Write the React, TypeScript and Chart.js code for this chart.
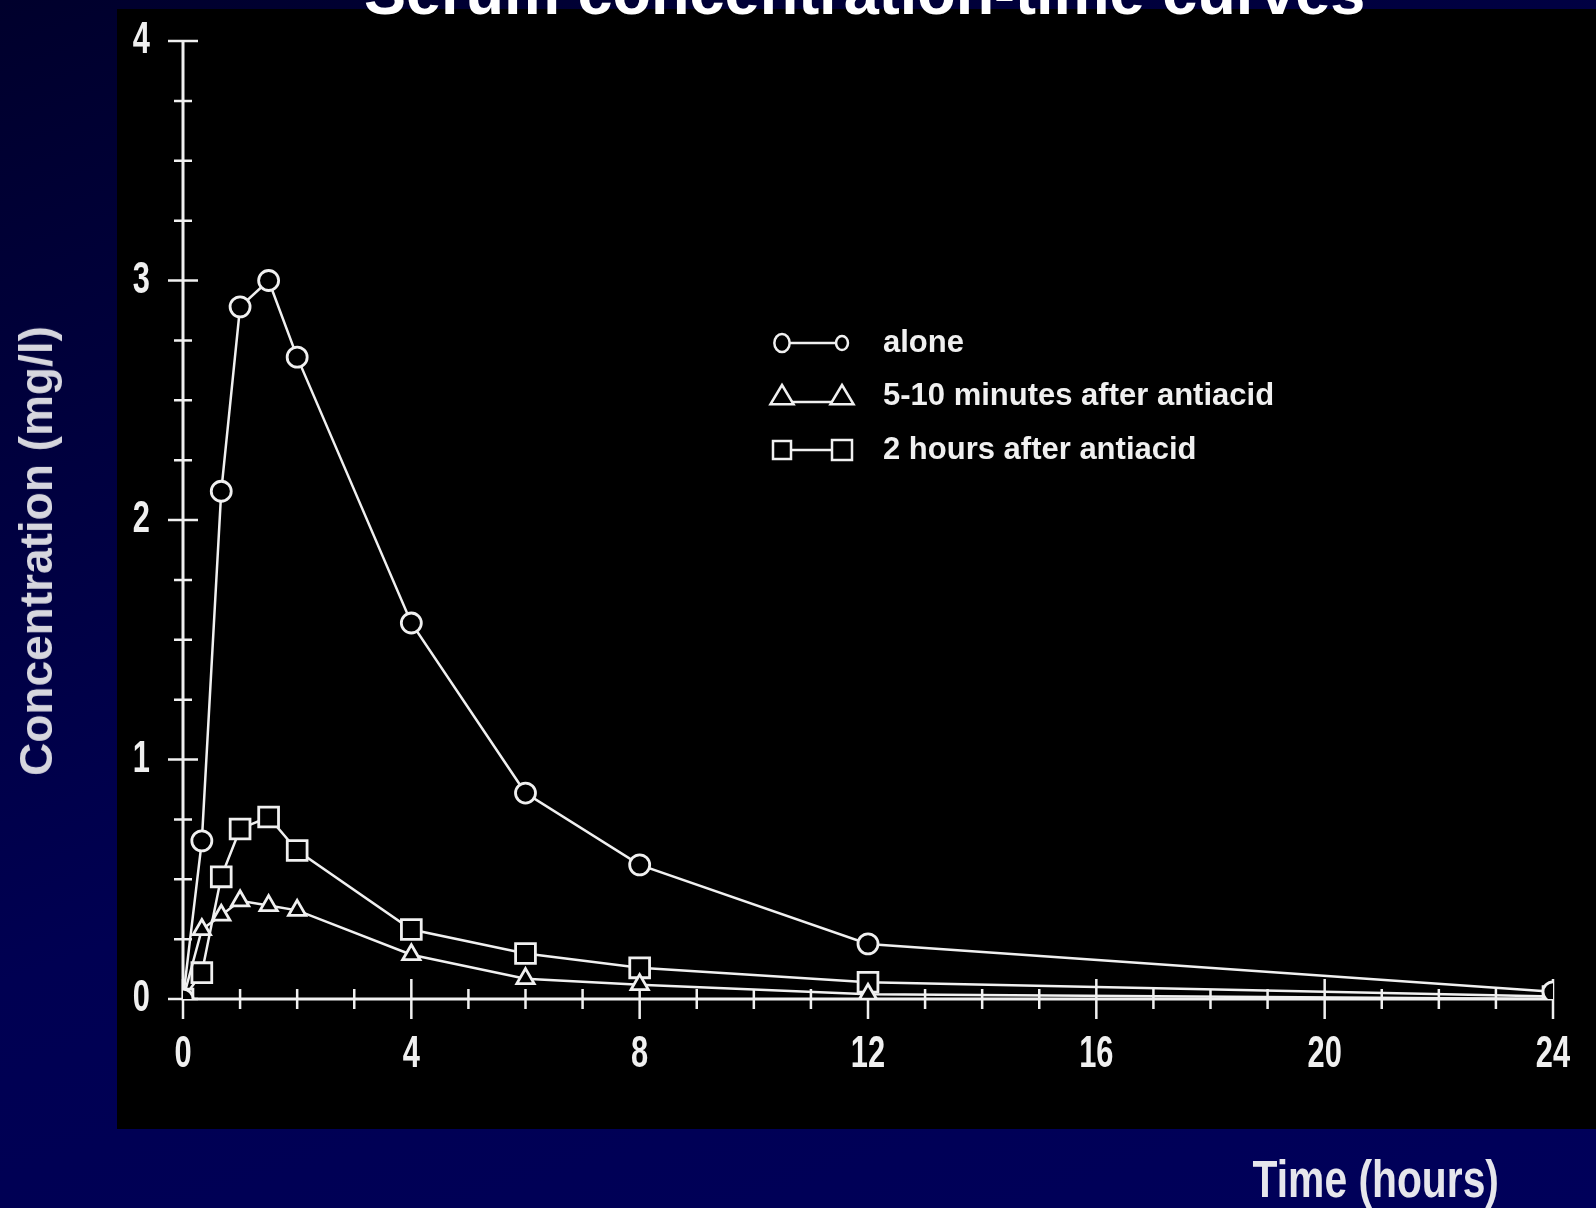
import React, { useEffect, useRef } from 'react';
import { Chart, registerables } from 'chart.js';

Chart.register(...registerables);

// ---- data ----
const times = [0, 0.33, 0.67, 1, 1.5, 2, 4, 6, 8, 12, 24];
const seriesLabels = ['alone', '5-10 minutes after antiacid', '2 hours after antiacid'];
const aloneValues = [0, 0.66, 2.12, 2.89, 3.0, 2.68, 1.57, 0.86, 0.56, 0.23, 0.03];
const antacid5to10Values = [0, 0.29, 0.35, 0.41, 0.39, 0.37, 0.185, 0.085, 0.06, 0.02, 0];
const antacid2hValues = [0, 0.11, 0.51, 0.71, 0.76, 0.62, 0.29, 0.19, 0.13, 0.07, 0.01];
const xTickValues = [0, 4, 8, 12, 16, 20, 24];
const yTickValues = [0, 1, 2, 3, 4];
const xMinorStep = 1;
const yMinorStep = 0.25;
const titleText = 'Serum concentration-time curves';
const xAxisTitle = 'Time (hours)';
const yAxisTitle = 'Concentration (mg/l)';

// ---- styles ----
const W = 1596;
const H = 1208;
const WHITE = '#f0f0f0';
const FONT = '"Liberation Sans", Arial, Helvetica, sans-serif';
const pointStyles = ['circle', 'triangle', 'rect'];
const pointRadii = [10, 10, 14];

const crossAxesPlugin = {
  id: 'crossAxes',
  beforeDatasetsDraw(chart: any) {
    const { ctx, scales } = chart;
    const xs = scales.x;
    const ys = scales.y;
    const x0 = xs.getPixelForValue(xs.min);
    const y0 = ys.getPixelForValue(ys.min);
    ctx.save();
    ctx.strokeStyle = WHITE;
    ctx.lineWidth = 3;
    ctx.beginPath();
    ctx.moveTo(x0, ys.getPixelForValue(ys.max));
    ctx.lineTo(x0, y0);
    ctx.lineTo(xs.getPixelForValue(xs.max), y0);
    ctx.stroke();
    ctx.lineWidth = 2.5;
    ctx.beginPath();
    for (let v = ys.min; v <= ys.max + 1e-9; v += yMinorStep) {
      const major = yTickValues.some((t) => Math.abs(t - v) < 1e-6);
      const h = major ? 15 : 9;
      const py = ys.getPixelForValue(v);
      ctx.moveTo(x0 - h, py);
      ctx.lineTo(x0 + h, py);
    }
    for (let t = xs.min; t <= xs.max + 1e-9; t += xMinorStep) {
      const major = xTickValues.some((v) => Math.abs(t - v) < 1e-6);
      const h = major ? 20 : 10;
      const px = xs.getPixelForValue(t);
      ctx.moveTo(px, y0 - h);
      ctx.lineTo(px, y0 + h);
    }
    ctx.stroke();

    // condensed tick labels, placed by the scales
    ctx.fillStyle = WHITE;
    ctx.font = `bold 44px ${FONT}`;
    ctx.textBaseline = 'middle';
    ctx.textAlign = 'center';
    xs.ticks.forEach((t: any) => {
      const label = t.label != null ? String(t.label) : String(t.value);
      ctx.save();
      ctx.translate(xs.getPixelForValue(t.value), y0 + 56);
      ctx.scale(0.7, 1);
      ctx.fillText(label, 0, 0);
      ctx.restore();
    });
    ctx.textAlign = 'right';
    ys.ticks.forEach((t: any) => {
      const label = t.label != null ? String(t.label) : String(t.value);
      ctx.save();
      ctx.translate(x0 - 33, ys.getPixelForValue(t.value));
      ctx.scale(0.7, 1);
      ctx.fillText(label, 0, 0);
      ctx.restore();
    });
    ctx.restore();
  },
};

function drawMarker(ctx: CanvasRenderingContext2D, style: string, x: number, y: number, r: number) {
  ctx.beginPath();
  if (style === 'circle') {
    ctx.ellipse(x, y, r * 0.85, r, 0, 0, Math.PI * 2);
  } else if (style === 'triangle') {
    ctx.moveTo(x, y - r);
    ctx.lineTo(x + r * 1.05, y + r * 0.75);
    ctx.lineTo(x - r * 1.05, y + r * 0.75);
    ctx.closePath();
  } else {
    ctx.rect(x - r, y - r, 2 * r, 2 * r);
  }
  ctx.fill();
  ctx.stroke();
}

const legendPlugin = {
  id: 'seriesKey',
  afterDatasetsDraw(chart: any) {
    const { ctx } = chart;
    const rows = [343, 396, 450];
    const m1 = 782;
    const m2 = 842;
    const textX = 883;
    const sizes = [
      [9, 7],
      [11, 11],
      [9, 10],
    ];
    ctx.save();
    chart.data.datasets.forEach((ds: any, i: number) => {
      const y = rows[i];
      ctx.strokeStyle = WHITE;
      ctx.fillStyle = '#000';
      ctx.lineWidth = 2.5;
      ctx.beginPath();
      ctx.moveTo(m1, y + (i === 1 ? 6 : 0));
      ctx.lineTo(m2, y + (i === 1 ? 6 : 0));
      ctx.stroke();
      drawMarker(ctx, ds.pointStyle, m1, y, sizes[i][0]);
      drawMarker(ctx, ds.pointStyle, m2, y, sizes[i][1]);
      ctx.fillStyle = WHITE;
      ctx.font = `bold 31px ${FONT}`;
      ctx.textBaseline = 'middle';
      ctx.textAlign = 'left';
      ctx.fillText(ds.label, textX, y);
    });
    ctx.restore();
  },
};

function zeroPadding(s: any) {
  s.paddingTop = 0;
  s.paddingBottom = 0;
  s.paddingLeft = 0;
  s.paddingRight = 0;
}

export default function App() {
  const canvasRef = useRef<HTMLCanvasElement | null>(null);

  useEffect(() => {
    if (!canvasRef.current) return;
    const seriesValues = [aloneValues, antacid5to10Values, antacid2hValues];
    const chart = new Chart(canvasRef.current, {
      type: 'scatter',
      data: {
        datasets: seriesLabels.map((label, i) => ({
          label,
          data: times.map((t, k) => ({ x: t, y: seriesValues[i][k] })),
          showLine: true,
          borderColor: WHITE,
          borderWidth: 2.5,
          backgroundColor: '#000',
          pointStyle: pointStyles[i],
          pointRadius: pointRadii[i],
          pointBorderWidth: 2.8,
          pointBorderColor: WHITE,
          pointBackgroundColor: '#000',
          tension: 0,
        })),
      },
      options: {
        responsive: false,
        animation: false,
        devicePixelRatio: 1,
        layout: { padding: { left: 0, top: 41, right: 43, bottom: 0 } },
        plugins: {
          legend: { display: false },
          tooltip: { enabled: false },
          title: { display: false },
        },
        scales: {
          x: {
            type: 'linear',
            min: 0,
            max: 24,
            afterBuildTicks: (s: any) => {
              s.ticks = xTickValues.map((v) => ({ value: v }));
            },
            afterFit: (s: any) => {
              s.height = H - 999;
              zeroPadding(s);
            },
            grid: { display: false, drawTicks: false },
            border: { display: false },
            ticks: { display: false, autoSkip: false, padding: 0 },
          },
          y: {
            type: 'linear',
            min: 0,
            max: 4,
            afterBuildTicks: (s: any) => {
              s.ticks = yTickValues.map((v) => ({ value: v }));
            },
            afterFit: (s: any) => {
              s.width = 183;
              zeroPadding(s);
            },
            grid: { display: false, drawTicks: false },
            border: { display: false },
            ticks: { display: false, autoSkip: false, padding: 0 },
          },
        },
      } as any,
      plugins: [crossAxesPlugin, legendPlugin],
    });
    return () => chart.destroy();
  }, []);

  return (
    <div
      style={{
        position: 'absolute',
        left: 0,
        top: 0,
        width: W,
        height: H,
        overflow: 'hidden',
        background: 'linear-gradient(160deg, #00002c 0%, #000052 55%, #00005a 100%)',
      }}
    >
      <div style={{ position: 'absolute', left: 117, top: 9, width: W - 117, height: 1120, background: '#000' }} />
      <canvas ref={canvasRef} width={W} height={H} style={{ position: 'absolute', left: 0, top: 0 }} />
      <div
        style={{
          position: 'absolute',
          left: 364,
          width: 1000,
          top: -39,
          textAlign: 'center',
          font: `bold 63px ${FONT}`,
          lineHeight: '63px',
          color: '#ffffff',
          whiteSpace: 'nowrap',
        }}
      >
        {titleText}
      </div>
      <div
        style={{
          position: 'absolute',
          left: 36,
          top: 551,
          transform: 'translate(-50%, -50%) rotate(-90deg)',
          font: `bold 46px ${FONT}`,
          lineHeight: '46px',
          color: '#d6d6de',
          whiteSpace: 'nowrap',
        }}
      >
        {yAxisTitle}
      </div>
      <div
        style={{
          position: 'absolute',
          right: W - 1499,
          top: 1154,
          font: `bold 51px ${FONT}`,
          lineHeight: '51px',
          color: '#e6e6ec',
          whiteSpace: 'nowrap',
          transform: 'scaleX(0.8)',
          transformOrigin: 'right center',
        }}
      >
        {xAxisTitle}
      </div>
    </div>
  );
}
